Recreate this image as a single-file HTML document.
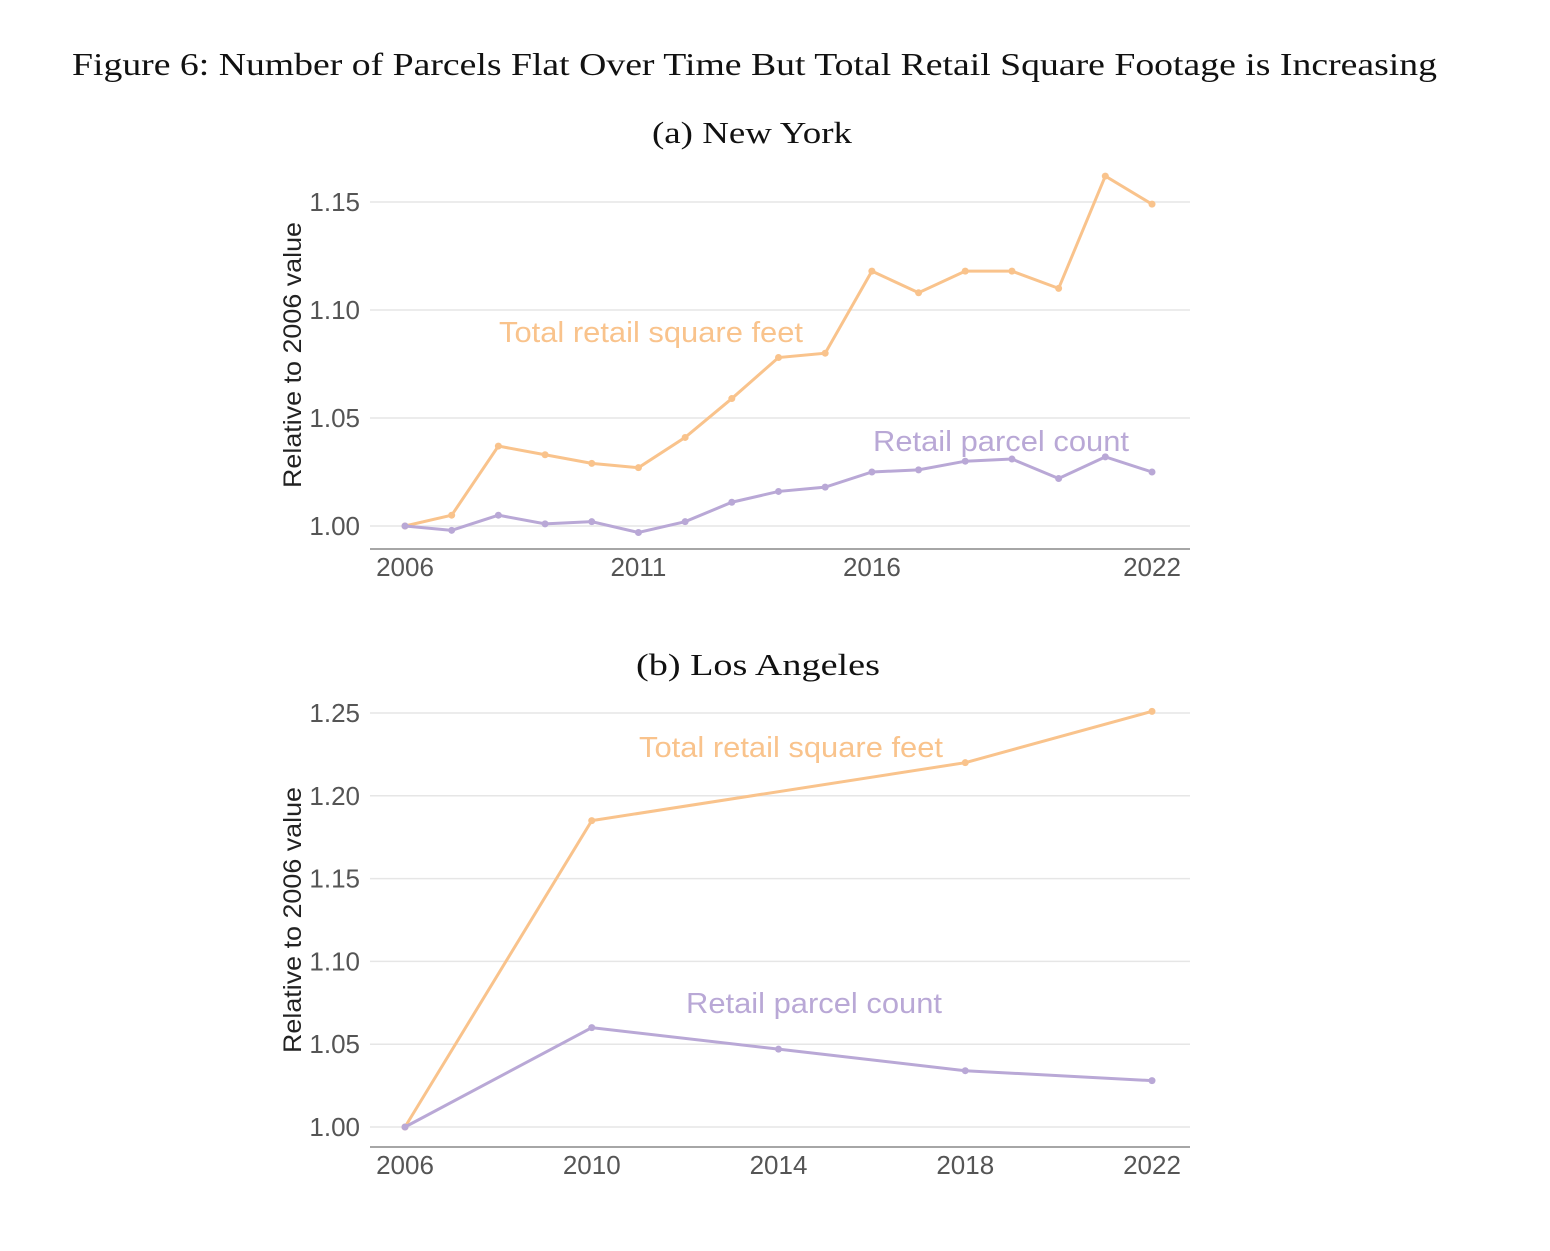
<!DOCTYPE html>
<html><head><meta charset="utf-8"><style>
body{margin:0;background:#fff;}
svg text{font-family:"Liberation Sans",sans-serif;}
</style></head><body>
<svg id="svg" width="1550" height="1246" viewBox="0 0 1550 1246" xmlns="http://www.w3.org/2000/svg">
<text x="72" y="75" textLength="1365" lengthAdjust="spacingAndGlyphs" style="font-family:'Liberation Serif',serif;font-size:32px" fill="#111">Figure 6: Number of Parcels Flat Over Time But Total Retail Square Footage is Increasing</text>
<text x="652" y="143" textLength="200" lengthAdjust="spacingAndGlyphs" style="font-family:'Liberation Serif',serif;font-size:31px" fill="#111">(a) New York</text>
<text x="636" y="675" textLength="244" lengthAdjust="spacingAndGlyphs" style="font-family:'Liberation Serif',serif;font-size:31px" fill="#111">(b) Los Angeles</text>
<g id="ga"></g><g id="gb"></g>
</svg>
<script>
const nyYears=[2006,2007,2008,2009,2010,2011,2012,2013,2014,2015,2016,2017,2018,2019,2020,2021,2022];
const nySqft=[1.000,1.005,1.037,1.033,1.029,1.027,1.041,1.059,1.078,1.080,1.118,1.108,1.118,1.118,1.110,1.162,1.149];
const nyCount=[1.000,0.998,1.005,1.001,1.002,0.997,1.002,1.011,1.016,1.018,1.025,1.026,1.030,1.031,1.022,1.032,1.025];
const nyYTicks=[1.00,1.05,1.10,1.15];
const nyXTicks=[2006,2011,2016,2022];
const laSqftYears=[2006,2010,2018,2022];
const laSqft=[1.000,1.185,1.220,1.251];
const laCountYears=[2006,2010,2014,2018,2022];
const laCount=[1.000,1.060,1.047,1.034,1.028];
const laYTicks=[1.00,1.05,1.10,1.15,1.20,1.25];
const laXTicks=[2006,2010,2014,2018,2022];
const NS="http://www.w3.org/2000/svg";
function mk(p,t,a){const e=document.createElementNS(NS,t);for(const k in a)e.setAttribute(k,a[k]);p.appendChild(e);return e;}
function panel(g,cfg){
  const x=v=>405+(v-2006)/(16)*747;
  const y=v=>cfg.y0+(v-1)/(cfg.ymax-1)*(cfg.ytop-cfg.y0);
  cfg.yt.forEach(t=>{
    const l=mk(g,'line',{x1:370,x2:1190,y1:y(t),y2:y(t),stroke:'#e6e6e6','stroke-width':1.5});
    
    
    const tx=mk(g,'text',{x:360,y:y(t)+9,'text-anchor':'end','font-size':26,fill:'#555'});
    tx.textContent=t.toFixed(2);
    
    
  });
  const ax=mk(g,'line',{x1:370,x2:1190,y1:cfg.axisY,y2:cfg.axisY,stroke:'#888','stroke-width':1.5});
  
  
  cfg.xt.forEach(t=>{
    const tx=mk(g,'text',{x:x(t),y:cfg.axisY+27,'text-anchor':'middle','font-size':26,fill:'#555'});
    tx.textContent=t;
    
    
  });
  const yl=mk(g,'text',{transform:`translate(301,${cfg.ylabY}) rotate(-90)`,'text-anchor':'middle','font-size':25,fill:'#222',textLength:266,lengthAdjust:'spacingAndGlyphs'});
  yl.textContent='Relative to 2006 value';
  
  
  cfg.series.forEach(s=>{
    const pl=mk(g,'polyline',{points:s.xs.map((v,i)=>x(v)+','+y(s.v[i])).join(' '),fill:'none',stroke:s.c,'stroke-width':3});
    
    
    s.xs.forEach((v,i)=>{
      const c=mk(g,'circle',{cx:x(v),cy:y(s.v[i]),r:3.5,fill:s.c});
      
      
    });
    const lb=mk(g,'text',{x:s.lx,y:s.ly,'font-size':29,fill:s.c,textLength:s.lw,lengthAdjust:'spacingAndGlyphs'});
    lb.textContent=s.label;
    
    
  });
}
const OR='#f9c38c',PU='#b9a8d6';
panel(document.getElementById('ga'),{y0:526,ytop:202,ymax:1.15,axisY:549,ylabY:355,yt:nyYTicks,xt:nyXTicks,
 series:[{name:'ny-sqft',xs:nyYears,v:nySqft,c:OR,label:'Total retail square feet',lx:499,ly:342,lw:304},
         {name:'ny-count',xs:nyYears,v:nyCount,c:PU,label:'Retail parcel count',lx:873,ly:451,lw:256}]});
panel(document.getElementById('gb'),{y0:1127,ytop:713,ymax:1.25,axisY:1147,ylabY:920,yt:laYTicks,xt:laXTicks,
 series:[{name:'la-sqft',xs:laSqftYears,v:laSqft,c:OR,label:'Total retail square feet',lx:639,ly:757,lw:304},
         {name:'la-count',xs:laCountYears,v:laCount,c:PU,label:'Retail parcel count',lx:686,ly:1013,lw:256}]});
</script>
</body></html>
